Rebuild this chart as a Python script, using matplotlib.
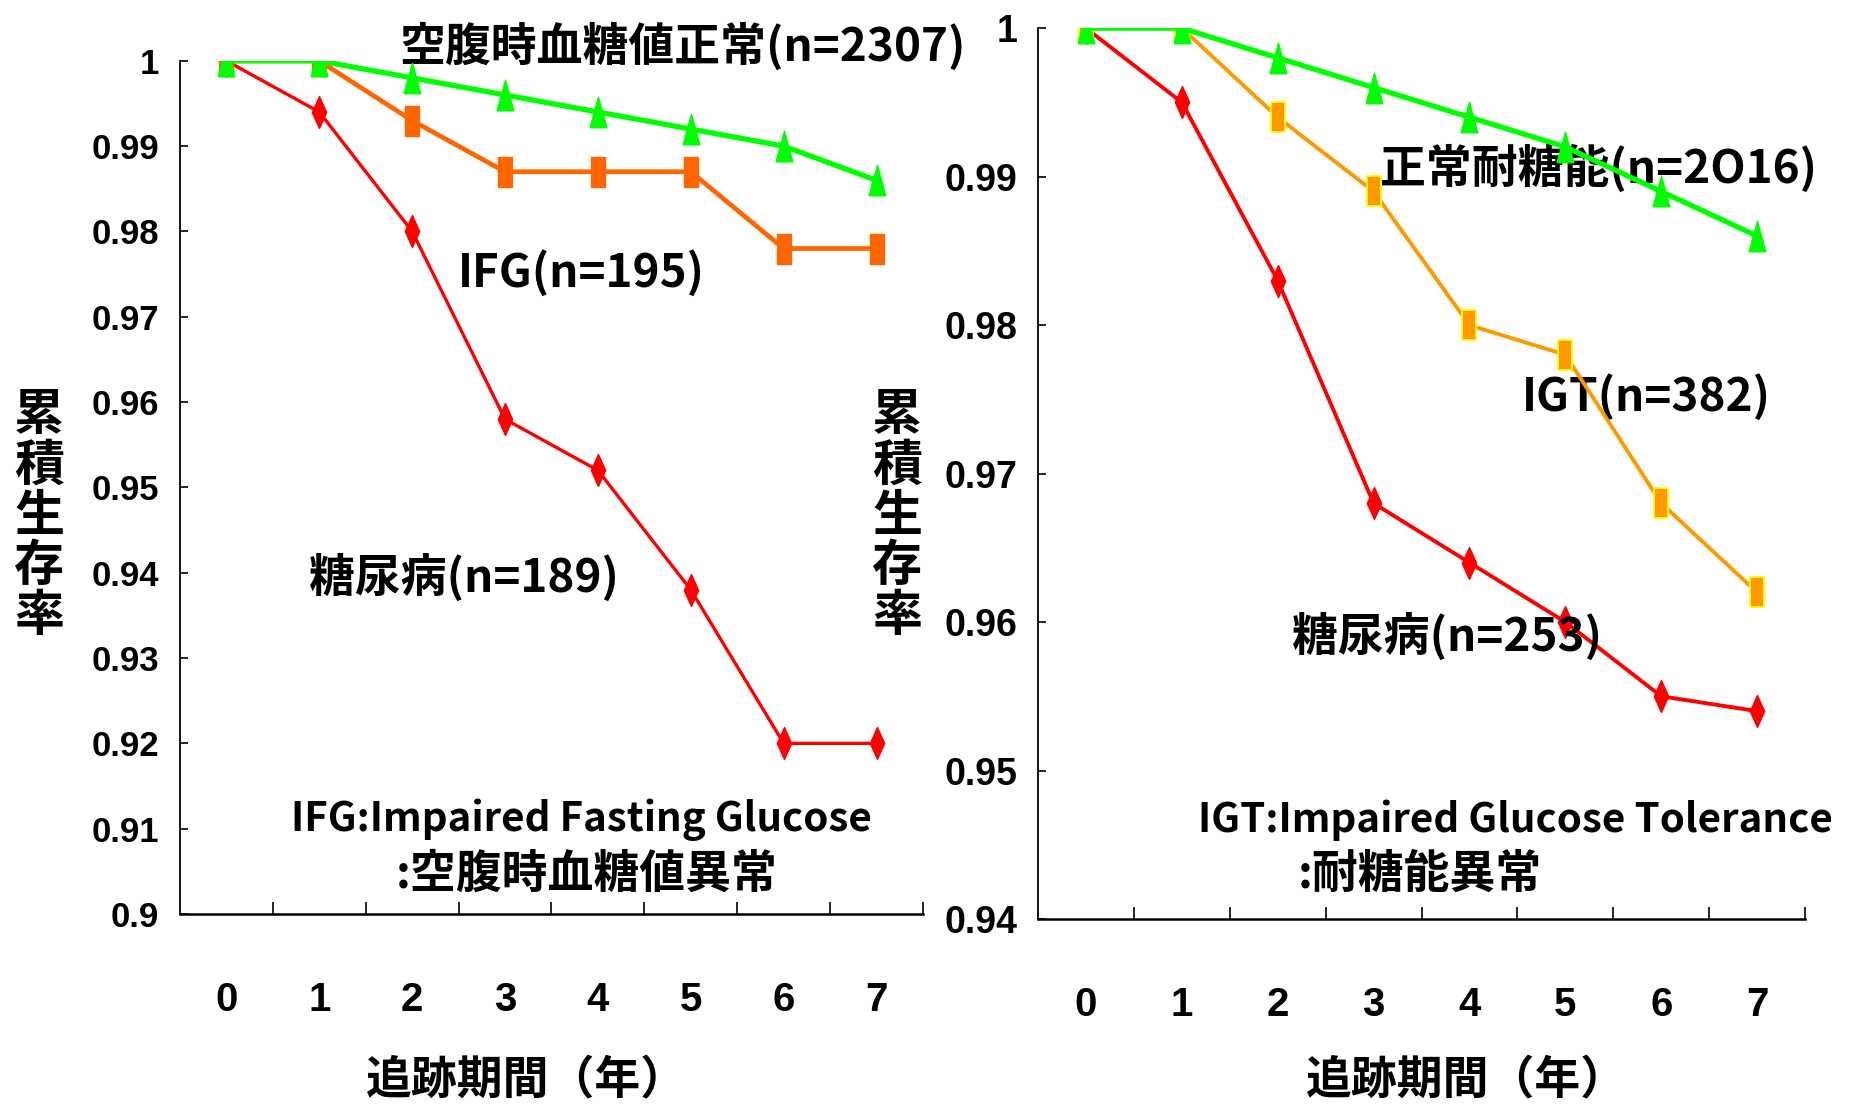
import matplotlib
matplotlib.use('Agg')
import matplotlib.pyplot as plt
from matplotlib.ticker import FixedLocator

plt.rcParams['font.family'] = ['Noto Sans CJK JP', 'DejaVu Sans']
num_font = ['Liberation Sans', 'DejaVu Sans']

years = [0, 1, 2, 3, 4, 5, 6, 7]

# left panel: fasting glucose groups
ifg_normal = [1.000, 1.000, 0.998, 0.996, 0.994, 0.992, 0.990, 0.986]
ifg_ifg = [1.000, 1.000, 0.993, 0.987, 0.987, 0.987, 0.978, 0.978]
ifg_dm = [1.000, 0.994, 0.980, 0.958, 0.952, 0.938, 0.920, 0.920]
left_yticks = [0.90, 0.91, 0.92, 0.93, 0.94, 0.95, 0.96, 0.97, 0.98, 0.99, 1.00]
left_ylabels = ['0.9', '0.91', '0.92', '0.93', '0.94', '0.95', '0.96', '0.97', '0.98', '0.99', '1']

# right panel: glucose tolerance groups
igt_normal = [1.000, 1.000, 0.998, 0.996, 0.994, 0.992, 0.989, 0.986]
igt_igt = [1.000, 1.000, 0.994, 0.989, 0.980, 0.978, 0.968, 0.962]
igt_dm = [1.000, 0.995, 0.983, 0.968, 0.964, 0.960, 0.955, 0.954]
right_yticks = [0.94, 0.95, 0.96, 0.97, 0.98, 0.99, 1.00]
right_ylabels = ['0.94', '0.95', '0.96', '0.97', '0.98', '0.99', '1']

ylab = '累\n積\n生\n存\n率'
xlab = '追跡期間（年）'

# tall, narrow marker shapes (the original is horizontally squeezed)
tri = [(-0.55, -1), (0.55, -1), (0, 1), (-0.55, -1)]
rect = [(-0.45, -1), (0.45, -1), (0.45, 1), (-0.45, 1), (-0.45, -1)]
dia = [(0, -1), (0.45, 0), (0, 1), (-0.45, 0), (0, -1)]

fig = plt.figure(figsize=(18.5, 11.08), dpi=100)
ax1 = fig.add_axes([0.0973, 0.1751, 0.4016, 0.770])
ax2 = fig.add_axes([0.5611, 0.1706, 0.4146, 0.804])

ax1.plot(years, ifg_dm, color='#ff0000', lw=2.4, marker=dia, ms=23, mec='#ff0000', zorder=3)
ax1.plot(years, ifg_ifg, color='#ff6600', lw=3.4, marker=rect, ms=22, mec='#ff6600', zorder=4)
ax1.plot(years, ifg_normal, color='#00ff00', lw=3.8, marker=tri, ms=22, mec='#00ff00', zorder=5)

ax2.plot(years, igt_dm, color='#ff0000', lw=2.8, marker=dia, ms=23, mec='#ff0000', zorder=3)
ax2.plot(years, igt_igt, color='#ff9900', lw=2.8, marker=rect, ms=22, mec='#ffff00', mew=1.3, zorder=4)
ax2.plot(years, igt_normal, color='#00ff00', lw=3.8, marker=tri, ms=22, mec='#00ff00', zorder=5)

for ax, yt, yl, lo in [(ax1, left_yticks, left_ylabels, 0.90), (ax2, right_yticks, right_ylabels, 0.94)]:
    ax.set_xlim(-0.5, 7.5)
    ax.set_ylim(lo, 1.0)
    ax.set_yticks(yt)
    ax.set_yticklabels(yl)
    ax.set_xticks(years)
    ax.xaxis.set_minor_locator(FixedLocator([0.5, 1.5, 2.5, 3.5, 4.5, 5.5, 6.5, 7.5]))
    ax.spines['top'].set_visible(False)
    ax.spines['right'].set_visible(False)
    ax.spines['left'].set_linewidth(1.3)
    ax.spines['bottom'].set_linewidth(1.8)
    ax.tick_params(axis='y', direction='in', length=6, width=1.2, pad=15)
    ax.tick_params(axis='x', which='major', length=0, pad=48)
    ax.tick_params(axis='x', which='minor', direction='in', length=9, width=1.2)
    for t in ax.get_xticklabels():
        t.set_family(num_font)
        t.set_fontweight('bold')
        t.set_fontsize(29)
    for t in ax.get_yticklabels():
        t.set_family(num_font)
        t.set_fontweight('bold')
        t.set_fontsize(25 if ax is ax1 else 27)
    ax.patch.set_alpha(0)

lab = dict(fontsize=33, fontweight='bold', va='center', ha='left', clip_on=False)
eng = dict(lab, fontsize=29)
ax1.text(0.2948, 1.0164, '空腹時血糖値正常(n=2307)', transform=ax1.transAxes, **lab)
ax1.text(0.3742, 0.7503, 'IFG(n=195)', transform=ax1.transAxes, **lab)
ax1.text(0.1736, 0.394, '糖尿病(n=189)', transform=ax1.transAxes, **lab)
ax1.text(0.1494, 0.1102, 'IFG:Impaired Fasting Glucose', transform=ax1.transAxes, **eng)
ax1.text(0.2907, 0.0457, ':空腹時血糖値異常', transform=ax1.transAxes, **lab)

ax2.text(0.446, 0.842, '正常耐糖能(n=2O16)', transform=ax2.transAxes, **lab)
ax2.text(0.631, 0.585, 'IGT(n=382)', transform=ax2.transAxes, **lab)
ax2.text(0.331, 0.3165, '糖尿病(n=253)', transform=ax2.transAxes, **lab)
ax2.text(0.2086, 0.111, 'IGT:Impaired Glucose Tolerance', transform=ax2.transAxes, **eng)
ax2.text(0.339, 0.0494, ':耐糖能異常', transform=ax2.transAxes, **lab)

fig.text(39 / 1850, 1 - 516 / 1108, ylab, fontsize=36, fontweight='bold', ha='center', va='center', linespacing=0.98)
fig.text(897 / 1850, 1 - 516 / 1108, ylab, fontsize=36, fontweight='bold', ha='center', va='center', linespacing=0.98)
fig.text(527 / 1850, 1 - 1080 / 1108, xlab, fontsize=33, fontweight='bold', ha='center', va='center')
fig.text(1467 / 1850, 1 - 1080 / 1108, xlab, fontsize=33, fontweight='bold', ha='center', va='center')

fig.savefig('out.png', dpi=100, facecolor='white')
